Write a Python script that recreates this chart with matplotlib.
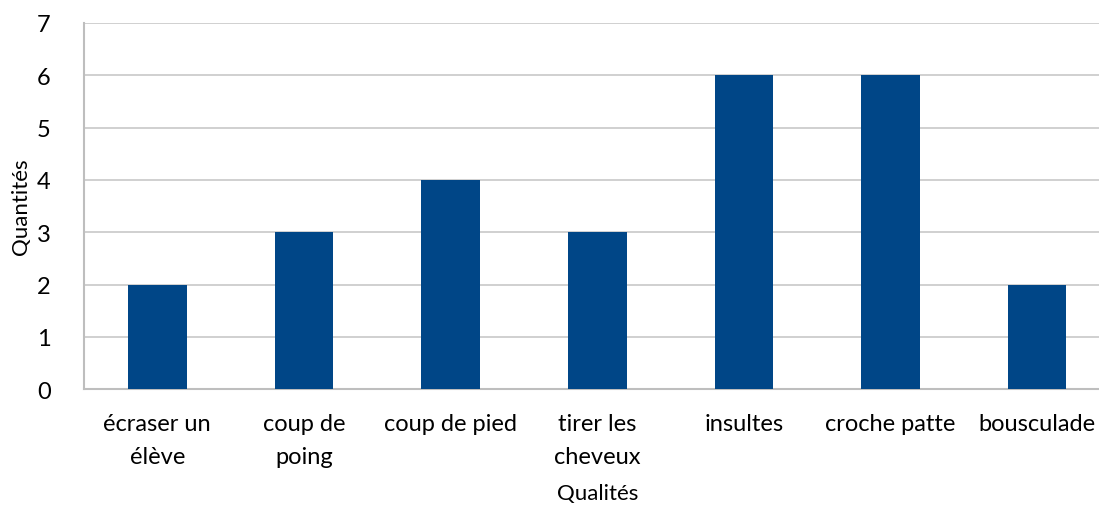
import matplotlib
matplotlib.use('Agg')
import matplotlib.pyplot as plt

# Data
categories = ['écraser un\nélève', 'coup de\npoing', 'coup de pied', 'tirer les\ncheveux',
              'insultes', 'croche patte', 'bousculade']
values = [2, 3, 4, 3, 6, 6, 2]
yticks = [0, 1, 2, 3, 4, 5, 6, 7]

plt.rcParams['font.family'] = ['Lato', 'DejaVu Sans']

fig = plt.figure(figsize=(10.99, 5.06), dpi=100)
ax = fig.add_axes([0.0764, 0.229, 0.934, 0.7236])

x = range(len(categories))
ax.bar(x, values, width=0.4, color='#004687', zorder=3)

# Axes formatting
ax.set_xlim(-0.5, len(categories) - 0.5)
ax.set_ylim(0, 7)
ax.set_yticks(yticks)
ax.set_xticks(list(x))
ax.set_xticklabels(categories, fontsize=17, linespacing=1.7)
ax.tick_params(axis='y', labelsize=17, length=0, pad=24)
ax.tick_params(axis='x', length=0, pad=17)
ax.yaxis.grid(True, color='#c8c8c8', linewidth=1.2, zorder=0)

ax.spines['right'].set_visible(False)
ax.spines['top'].set_visible(False)
ax.spines['left'].set_color('#bebebe')
ax.spines['left'].set_linewidth(1.5)
ax.spines['bottom'].set_color('#bebebe')
ax.spines['bottom'].set_linewidth(1.5)

ax.set_ylabel('Quantités', fontsize=16, va='center')
ax.yaxis.set_label_coords(-0.061, 0.5)
ax.set_xlabel('Qualités', fontsize=16, labelpad=12)

plt.savefig('out.png', dpi=100)
